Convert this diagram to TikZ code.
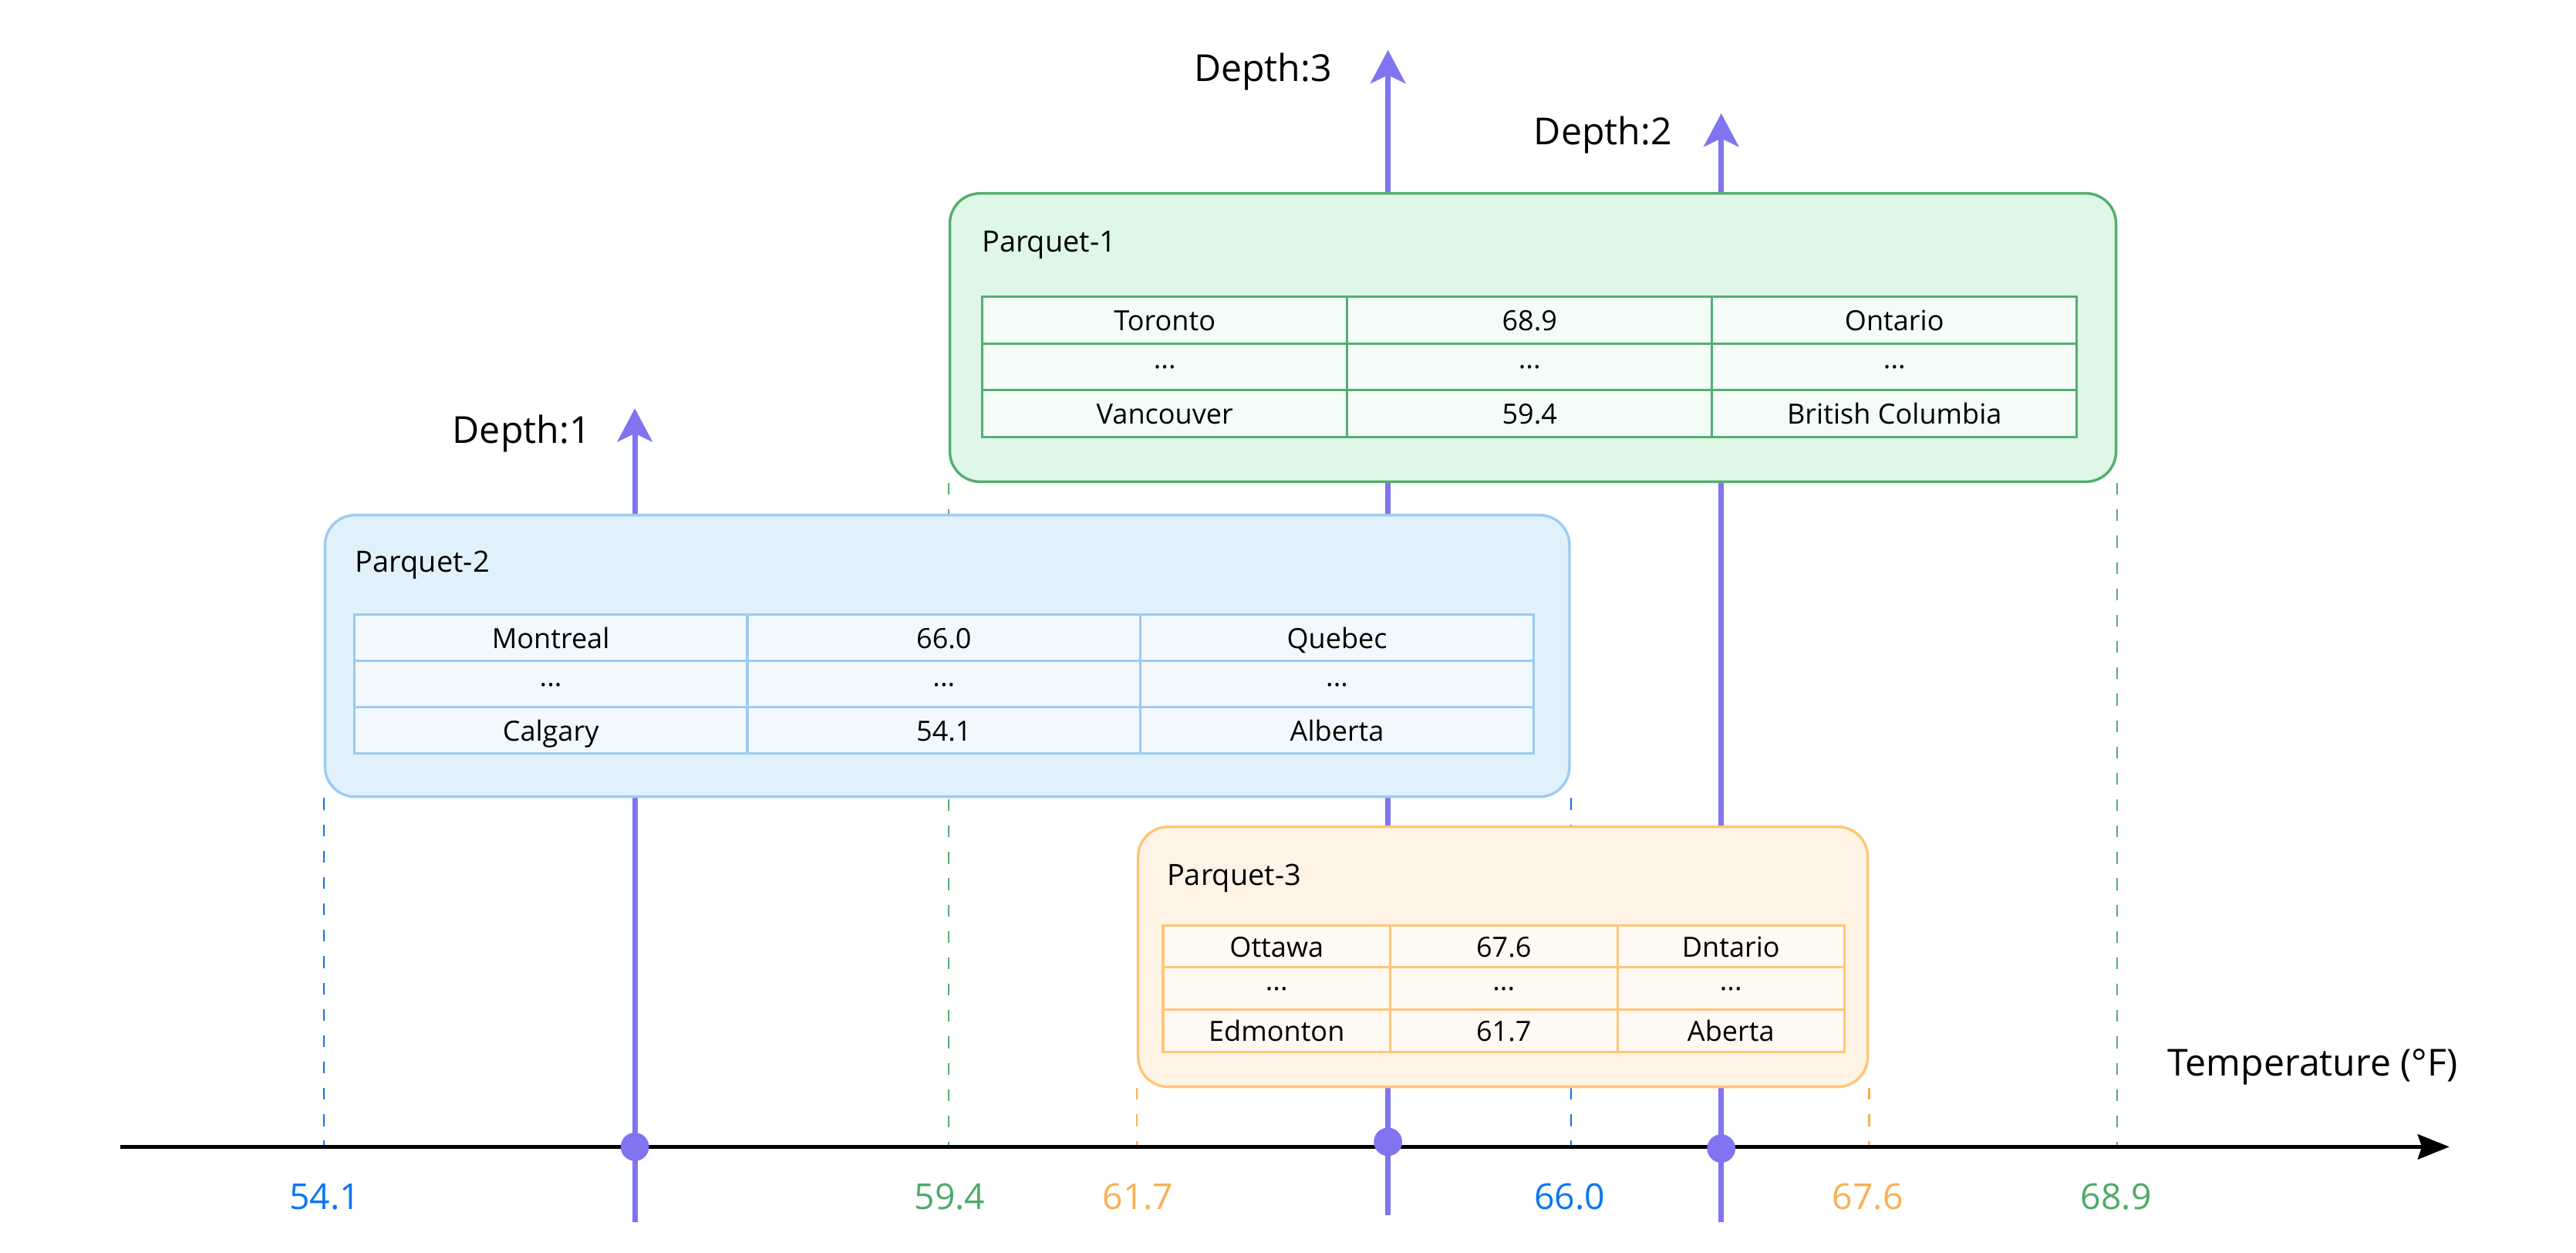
\documentclass[tikz,border=0pt]{standalone}
\usepackage{fontspec}
\setmainfont{Open Sans}
\usetikzlibrary{arrows.meta,positioning,matrix}
\definecolor{depthc}{RGB}{128,116,240}
\definecolor{gline}{RGB}{84,174,112}
\definecolor{gfill}{RGB}{222,247,230}
\definecolor{gcell}{RGB}{243,252,246}
\definecolor{gtext}{RGB}{78,170,106}
\definecolor{bline}{RGB}{158,203,240}
\definecolor{bfill}{RGB}{225,241,252}
\definecolor{bcell}{RGB}{242,249,254}
\definecolor{btext}{RGB}{10,118,245}
\definecolor{oline}{RGB}{255,198,118}
\definecolor{ofill}{RGB}{255,243,229}
\definecolor{ocell}{RGB}{255,249,243}
\definecolor{otext}{RGB}{249,176,82}
\pgfdeclarelayer{back}
\pgfsetlayers{back,main}
\tikzset{
  pbox/.style={draw, line width=0.9pt, rounded corners=0.36cm, inner sep=0pt},
  tab/.style={matrix of nodes, column sep=-0.8pt, row sep=-0.8pt,
    nodes={draw, line width=0.8pt, inner sep=0pt, anchor=center,
      text height=0.72em, text depth=0pt, font=\fontsize{9.5}{11}\selectfont}},
  plab/.style={anchor=west, inner sep=0pt, font=\fontsize{10}{12}\selectfont},
  deplab/.style={font=\fontsize{12.7}{15}\selectfont},
  depth/.style={draw=depthc, line width=1.8pt,
    -{Stealth[length=0.4cm,width=0.42cm,inset=0.1cm]}},
  dot/.style={circle, fill=depthc, inner sep=0pt, minimum size=0.34cm},
  dashln/.style={line width=0.6pt, dash pattern=on 4pt off 5pt},
  ticklab/.style={font=\fontsize{12.2}{14}\selectfont}
}
\begin{document}
\begin{tikzpicture}[x=0.02cm, y=-0.02cm]
	\useasboundingbox (0,0) rectangle (1546,751.4);
	\begin{pgfonlayer}{back}
		\fill[white] (0,0) rectangle (1546,751.4);
	\end{pgfonlayer}
	
	% Parquet-1
	\node[pbox, draw=gline, fill=gfill, minimum width=14cm, minimum height=3.46cm] (p1) at (920,202.5) {};
	\node[plab] (p1lab) at (589,147) {Parquet-1};
	\matrix[tab, nodes={draw=gline, fill=gcell, minimum width=4.38cm, minimum height=0.56cm}] (t1) at (918,220) {
		Toronto & 68.9 & Ontario \\
		··· & ··· & ··· \\
		Vancouver & 59.4 & British Columbia \\
	};
	
	% Parquet-2
	\node[pbox, draw=bline, fill=bfill, minimum width=14.94cm, minimum height=3.38cm] (p2) at (568.5,393.5) {};
	\node[plab] (p2lab) at (213,339) {Parquet-2};
	\matrix[tab, nodes={draw=bline, fill=bcell, minimum width=4.72cm, minimum height=0.555cm}] (t2) at (566.5,410.5) {
		Montreal & 66.0 & Quebec \\
		··· & ··· & ··· \\
		Calgary & 54.1 & Alberta \\
	};
	
	% Parquet-3
	\node[pbox, draw=oline, fill=ofill, minimum width=8.76cm, minimum height=3.12cm] (p3) at (902,574) {};
	\node[plab] (p3lab) at (700,527) {Parquet-3};
	\matrix[tab, nodes={draw=oline, fill=ocell, minimum width=2.727cm, minimum height=0.507cm}] (t3) at (902.5,593) {
		Ottawa & 67.6 & Dntario \\
		··· & ··· & ··· \\
		Edmonton & 61.7 & Aberta \\
	};
	
	% temperature axis
	\coordinate (ax0) at (72,688);
	\coordinate (ax1) at (1470,688);
	\draw[line width=1.2pt, -{Stealth[length=0.38cm,width=0.3cm,inset=0.05cm]}] (ax0) -- (ax1);
	\node[deplab] (tlab) at (1388,640) {Temperature (°F)};
	
	% min/max of each file
	\begin{pgfonlayer}{back}
		\foreach \b/\c in {p1/gline, p2/btext, p3/otext} {
			\draw[dashln, draw=\c] (\b.south west) -- (\b.south west |- ax0);
			\draw[dashln, draw=\c] (\b.south east) -- (\b.south east |- ax0);
		}
	\end{pgfonlayer}
	\foreach \x/\v/\c [count=\i] in {195/54.1/btext, 570/59.4/gtext, 683/61.7/otext, 942/66.0/btext, 1121/67.6/otext, 1270/68.9/gtext} {
		\node[ticklab, text=\c] (tick\i) at (\x,718) {\v};
	}
	
	% depths
	\foreach \n/\x/\top/\bot/\d in {1/381/245/733/688, 3/833/30/729/685, 2/1033/68/733/689} {
		\coordinate (d\n top) at (\x,\top);
		\coordinate (d\n bot) at (\x,\bot);
		\begin{pgfonlayer}{back}
			\draw[depth] (d\n bot) -- (d\n top);
		\end{pgfonlayer}
		\node[dot] (d\n dot) at (\x,\d) {};
	}
	\node[deplab] (d1lab) at (313,260) {Depth:1};
	\node[deplab] (d3lab) at (758,43) {Depth:3};
	\node[deplab] (d2lab) at (962,81) {Depth:2};
\end{tikzpicture}
\end{document}
